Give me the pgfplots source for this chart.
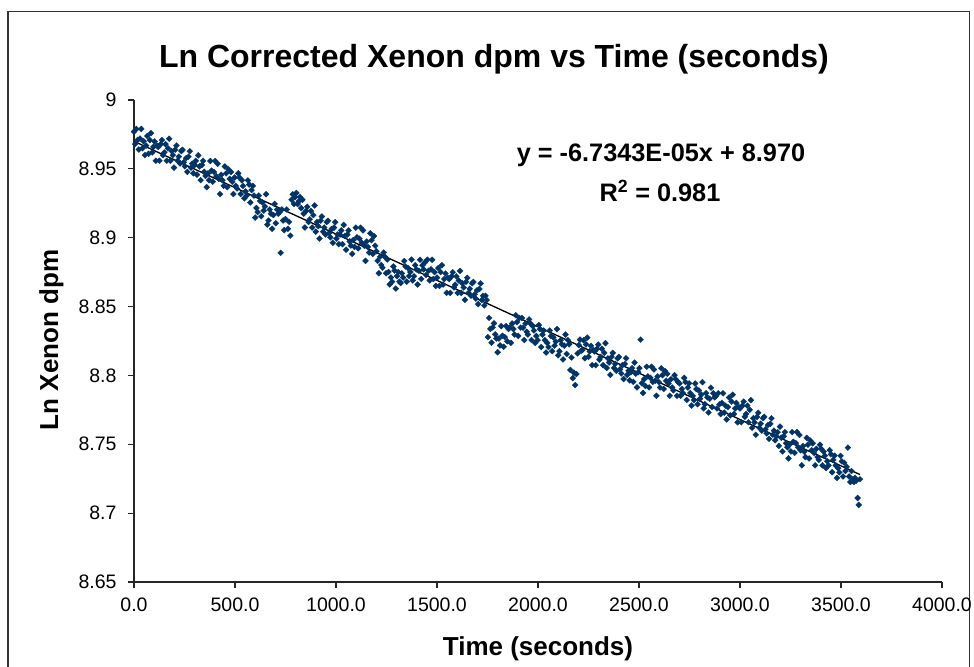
\documentclass[border=0pt]{standalone}
\usepackage{fontspec}
\setmainfont{Liberation Sans}
\usepackage{pgfplots}
\pgfplotsset{compat=1.18}
\definecolor{navy}{RGB}{0,51,102}
\begin{document}
\begin{tikzpicture}[x=1bp,y=1bp]
\path[use as bounding box] (0,0) rectangle (974,667);
\draw[line width=1.5bp, black!80] (8,-5) -- (8,655.5) -- (969.5,655.5) -- (969.5,-5);
\begin{axis}[
  at={(134bp,85bp)}, anchor=south west,
  scale only axis, width=808bp, height=482bp,
  xmin=0, xmax=4000, ymin=8.65, ymax=9,
  axis x line=bottom, axis y line=left,
  axis line style={-, line width=1.1bp, black!85},
  tick style={line width=1.1bp, black!85},
  tick align=outside, major tick length=6bp,
  xtick={0,500,...,4000},
  ytick={8.65,8.7,8.75,8.8,8.85,8.9,8.95,9},
  /pgf/number format/assume math mode=true,
  ticklabel style={font=\fontsize{19.5bp}{22bp}\selectfont},
  xticklabel style={yshift=-6bp, /pgf/number format/.cd, fixed, fixed zerofill, precision=1, 1000 sep={}},
  yticklabel style={xshift=-8bp, /pgf/number format/.cd, fixed, precision=2},
  clip=false,
]
\addplot[only marks, mark=square*, mark size=2.1bp, mark options={rotate=45, fill=navy, draw=navy, line width=0.3bp}] coordinates {
(0,8.9770)(6,8.9680)(12,8.9790)(18,8.9710)(24,8.9640)(30,8.9720)(36,8.9790)(42,8.9650)(48,8.9700)(54,8.9600)
(60,8.9669)(66,8.9739)(72,8.9609)(78,8.9709)(84,8.9759)(90,8.9619)(96,8.9659)(102,8.9699)(108,8.9559)(114,8.9669)
(120,8.9659)(126,8.9559)(132,8.9679)(138,8.9709)(144,8.9599)(150,8.9619)(156,8.9679)(162,8.9559)(168,8.9649)(174,8.9719)
(180,8.9559)(186,8.9629)(192,8.9599)(198,8.9509)(204,8.9639)(210,8.9669)(216,8.9559)(222,8.9589)(228,8.9539)(234,8.9629)
(240,8.9638)(246,8.9548)(252,8.9518)(258,8.9578)(264,8.9478)(270,8.9588)(276,8.9628)(282,8.9508)(288,8.9538)(294,8.9468)
(300,8.9528)(306,8.9558)(312,8.9458)(318,8.9598)(324,8.9518)(330,8.9418)(336,8.9528)(342,8.9558)(348,8.9478)(354,8.9448)
(360,8.9367)(366,8.9467)(372,8.9417)(378,8.9557)(384,8.9487)(390,8.9407)(396,8.9477)(402,8.9557)(408,8.9447)(414,8.9537)
(420,8.9427)(426,8.9317)(432,8.9457)(438,8.9417)(444,8.9377)(450,8.9517)(456,8.9467)(462,8.9367)(468,8.9497)(474,8.9427)
(480,8.9477)(486,8.9407)(492,8.9317)(498,8.9437)(504,8.9377)(510,8.9357)(516,8.9467)(522,8.9437)(528,8.9317)(534,8.9417)
(540,8.9376)(546,8.9286)(552,8.9336)(558,8.9306)(564,8.9416)(570,8.9386)(576,8.9256)(582,8.9346)(588,8.9376)(594,8.9306)
(600,8.9146)(606,8.9216)(612,8.9186)(618,8.9306)(624,8.9266)(630,8.9156)(636,8.9256)(642,8.9196)(648,8.9226)(654,8.9316)
(660,8.9095)(666,8.9125)(672,8.9205)(678,8.9175)(684,8.9065)(690,8.9165)(696,8.9245)(702,8.9105)(708,8.9205)(714,8.9175)
(720,8.9185)(726,8.8890)(732,8.9205)(738,8.9125)(744,8.9055)(750,8.9135)(756,8.9205)(762,8.9065)(768,8.9115)(774,8.9015)
(780,8.9275)(786,8.9315)(792,8.9245)(798,8.9295)(804,8.9325)(810,8.9245)(816,8.9265)(822,8.9295)(828,8.9215)(834,8.9275)
(840,8.9174)(846,8.9074)(852,8.9194)(858,8.9224)(864,8.9114)(870,8.9134)(876,8.9194)(882,8.9074)(888,8.9164)(894,8.9234)
(900,8.9044)(906,8.9114)(912,8.9084)(918,8.8994)(924,8.9124)(930,8.9154)(936,8.9044)(942,8.9074)(948,8.9024)(954,8.9114)
(960,8.9123)(966,8.9033)(972,8.9003)(978,8.9063)(984,8.8963)(990,8.9073)(996,8.9113)(1002,8.8993)(1008,8.9023)(1014,8.8953)
(1020,8.9023)(1026,8.9053)(1032,8.8953)(1038,8.9093)(1044,8.9013)(1050,8.8913)(1056,8.9023)(1062,8.9053)(1068,8.8973)(1074,8.8943)
(1080,8.8883)(1086,8.8983)(1092,8.8933)(1098,8.9073)(1104,8.9003)(1110,8.8923)(1116,8.8993)(1122,8.9073)(1128,8.8963)(1134,8.9053)
(1140,8.8942)(1146,8.8832)(1152,8.8972)(1158,8.8932)(1164,8.8892)(1170,8.9032)(1176,8.8982)(1182,8.8882)(1188,8.9012)(1194,8.8942)
(1200,8.8902)(1206,8.8832)(1212,8.8742)(1218,8.8862)(1224,8.8802)(1230,8.8782)(1236,8.8892)(1242,8.8862)(1248,8.8742)(1254,8.8842)
(1260,8.8751)(1266,8.8661)(1272,8.8711)(1278,8.8681)(1284,8.8791)(1290,8.8761)(1296,8.8631)(1302,8.8721)(1308,8.8751)(1314,8.8681)
(1320,8.8671)(1326,8.8741)(1332,8.8711)(1338,8.8831)(1344,8.8791)(1350,8.8681)(1356,8.8781)(1362,8.8721)(1368,8.8751)(1374,8.8841)
(1380,8.8690)(1386,8.8720)(1392,8.8800)(1398,8.8770)(1404,8.8660)(1410,8.8760)(1416,8.8840)(1422,8.8700)(1428,8.8800)(1434,8.8770)
(1440,8.8820)(1446,8.8730)(1452,8.8840)(1458,8.8760)(1464,8.8690)(1470,8.8770)(1476,8.8840)(1482,8.8700)(1488,8.8750)(1494,8.8650)
(1500,8.8710)(1506,8.8780)(1512,8.8650)(1518,8.8750)(1524,8.8800)(1530,8.8660)(1536,8.8700)(1542,8.8740)(1548,8.8600)(1554,8.8710)
(1560,8.8699)(1566,8.8599)(1572,8.8719)(1578,8.8749)(1584,8.8639)(1590,8.8659)(1596,8.8719)(1602,8.8599)(1608,8.8689)(1614,8.8759)
(1620,8.8599)(1626,8.8669)(1632,8.8639)(1638,8.8549)(1644,8.8679)(1650,8.8709)(1656,8.8599)(1662,8.8629)(1668,8.8579)(1674,8.8669)
(1680,8.8678)(1686,8.8588)(1692,8.8558)(1698,8.8618)(1704,8.8518)(1710,8.8628)(1716,8.8668)(1722,8.8548)(1728,8.8578)(1734,8.8508)
(1740,8.8578)(1746,8.8548)(1752,8.8278)(1758,8.8418)(1764,8.8338)(1770,8.8238)(1776,8.8348)(1782,8.8378)(1788,8.8298)(1794,8.8268)
(1800,8.8168)(1806,8.8268)(1812,8.8218)(1818,8.8358)(1824,8.8288)(1830,8.8208)(1836,8.8278)(1842,8.8358)(1848,8.8248)(1854,8.8338)
(1860,8.8347)(1866,8.8237)(1872,8.8377)(1878,8.8337)(1884,8.8297)(1890,8.8437)(1896,8.8387)(1902,8.8287)(1908,8.8417)(1914,8.8347)
(1920,8.8417)(1926,8.8347)(1932,8.8257)(1938,8.8377)(1944,8.8317)(1950,8.8297)(1956,8.8407)(1962,8.8377)(1968,8.8257)(1974,8.8357)
(1980,8.8326)(1986,8.8236)(1992,8.8286)(1998,8.8256)(2004,8.8366)(2010,8.8336)(2016,8.8206)(2022,8.8296)(2028,8.8326)(2034,8.8256)
(2040,8.8166)(2046,8.8236)(2052,8.8206)(2058,8.8326)(2064,8.8286)(2070,8.8176)(2076,8.8276)(2082,8.8216)(2088,8.8246)(2094,8.8336)
(2100,8.8146)(2106,8.8176)(2112,8.8256)(2118,8.8226)(2124,8.8116)(2130,8.8216)(2136,8.8296)(2142,8.8156)(2148,8.8256)(2154,8.8226)
(2160,8.8040)(2166,8.8130)(2172,8.7980)(2178,8.8020)(2184,8.7930)(2190,8.8010)(2196,8.8160)(2202,8.8220)(2208,8.8260)(2214,8.8180)
(2220,8.8185)(2226,8.8255)(2232,8.8125)(2238,8.8225)(2244,8.8275)(2250,8.8135)(2256,8.8175)(2262,8.8215)(2268,8.8075)(2274,8.8185)
(2280,8.8174)(2286,8.8074)(2292,8.8194)(2298,8.8224)(2304,8.8114)(2310,8.8134)(2316,8.8194)(2322,8.8074)(2328,8.8164)(2334,8.8234)
(2340,8.8054)(2346,8.8124)(2352,8.8094)(2358,8.8004)(2364,8.8134)(2370,8.8164)(2376,8.8054)(2382,8.8084)(2388,8.8034)(2394,8.8124)
(2400,8.8134)(2406,8.8044)(2412,8.8014)(2418,8.8074)(2424,8.7974)(2430,8.8084)(2436,8.8124)(2442,8.8004)(2448,8.8034)(2454,8.7964)
(2460,8.8023)(2466,8.8053)(2472,8.7953)(2478,8.8093)(2484,8.8013)(2490,8.7913)(2496,8.8023)(2502,8.8053)(2508,8.8260)(2514,8.7943)
(2520,8.7873)(2526,8.7973)(2532,8.7923)(2538,8.8063)(2544,8.7993)(2550,8.7913)(2556,8.7983)(2562,8.8063)(2568,8.7953)(2574,8.8043)
(2580,8.7962)(2586,8.7852)(2592,8.7992)(2598,8.7952)(2604,8.7912)(2610,8.8052)(2616,8.8002)(2622,8.7902)(2628,8.8032)(2634,8.7962)
(2640,8.8012)(2646,8.7942)(2652,8.7852)(2658,8.7972)(2664,8.7912)(2670,8.7892)(2676,8.8002)(2682,8.7972)(2688,8.7852)(2694,8.7952)
(2700,8.7942)(2706,8.7852)(2712,8.7902)(2718,8.7872)(2724,8.7982)(2730,8.7952)(2736,8.7822)(2742,8.7912)(2748,8.7942)(2754,8.7872)
(2760,8.7781)(2766,8.7851)(2772,8.7821)(2778,8.7941)(2784,8.7901)(2790,8.7791)(2796,8.7891)(2802,8.7831)(2808,8.7861)(2814,8.7951)
(2820,8.7761)(2826,8.7791)(2832,8.7871)(2838,8.7841)(2844,8.7731)(2850,8.7831)(2856,8.7911)(2862,8.7771)(2868,8.7871)(2874,8.7841)
(2880,8.7850)(2886,8.7760)(2892,8.7870)(2898,8.7790)(2904,8.7720)(2910,8.7800)(2916,8.7870)(2922,8.7730)(2928,8.7780)(2934,8.7680)
(2940,8.7770)(2946,8.7840)(2952,8.7710)(2958,8.7810)(2964,8.7860)(2970,8.7720)(2976,8.7760)(2982,8.7800)(2988,8.7660)(2994,8.7770)
(3000,8.7760)(3006,8.7660)(3012,8.7780)(3018,8.7810)(3024,8.7700)(3030,8.7720)(3036,8.7780)(3042,8.7660)(3048,8.7750)(3054,8.7820)
(3060,8.7619)(3066,8.7689)(3072,8.7659)(3078,8.7569)(3084,8.7699)(3090,8.7729)(3096,8.7619)(3102,8.7649)(3108,8.7599)(3114,8.7689)
(3120,8.7699)(3126,8.7609)(3132,8.7579)(3138,8.7639)(3144,8.7539)(3150,8.7649)(3156,8.7689)(3162,8.7569)(3168,8.7599)(3174,8.7529)
(3180,8.7558)(3186,8.7588)(3192,8.7488)(3198,8.7628)(3204,8.7548)(3210,8.7448)(3216,8.7558)(3222,8.7588)(3228,8.7508)(3234,8.7478)
(3240,8.7398)(3246,8.7498)(3252,8.7448)(3258,8.7588)(3264,8.7518)(3270,8.7438)(3276,8.7508)(3282,8.7588)(3288,8.7478)(3294,8.7568)
(3300,8.7457)(3306,8.7347)(3312,8.7487)(3318,8.7447)(3324,8.7407)(3330,8.7547)(3336,8.7497)(3342,8.7397)(3348,8.7527)(3354,8.7457)
(3360,8.7507)(3366,8.7437)(3372,8.7347)(3378,8.7467)(3384,8.7407)(3390,8.7387)(3396,8.7497)(3402,8.7467)(3408,8.7347)(3414,8.7447)
(3420,8.7417)(3426,8.7327)(3432,8.7377)(3438,8.7347)(3444,8.7457)(3450,8.7427)(3456,8.7297)(3462,8.7387)(3468,8.7417)(3474,8.7347)
(3480,8.7256)(3486,8.7326)(3492,8.7296)(3498,8.7416)(3504,8.7376)(3510,8.7266)(3516,8.7366)(3522,8.7306)(3528,8.7336)(3534,8.7476)
(3540,8.7266)(3546,8.7226)(3552,8.7306)(3558,8.7246)(3564,8.7226)(3570,8.7256)(3576,8.7236)(3582,8.7110)(3588,8.7060)(3594,8.7246)
};
\addplot[black, line width=1.3bp] coordinates {(0,8.9700)(3594,8.7280)};
\end{axis}
\node[anchor=base, font=\fontsize{32bp}{36bp}\selectfont\bfseries] at (494,599) {Ln Corrected Xenon dpm vs Time (seconds)};
\node[anchor=base, font=\fontsize{25.3bp}{28bp}\selectfont\bfseries] at (661,505) {y = -6.7343E-05x + 8.970};
\node[anchor=base, font=\fontsize{25.3bp}{28bp}\selectfont\bfseries] at (660,465) {R\textsuperscript{2} = 0.981};
\node[anchor=base, rotate=90, font=\fontsize{26bp}{30bp}\selectfont\bfseries] at (58,327) {Ln Xenon dpm};
\node[anchor=base, font=\fontsize{26bp}{30bp}\selectfont\bfseries] at (538,11) {Time (seconds)};
\end{tikzpicture}
\end{document}
